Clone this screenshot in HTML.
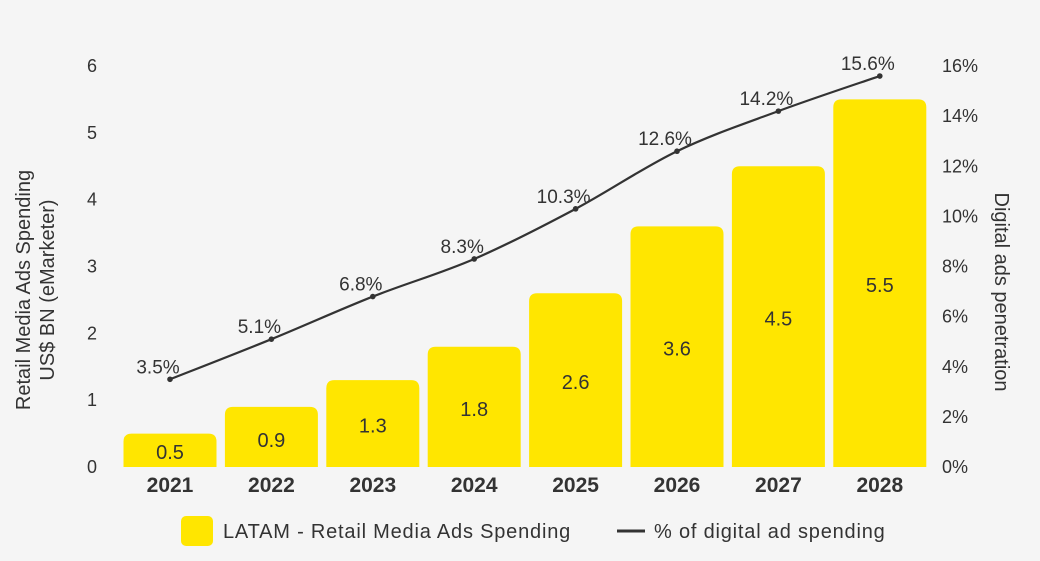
<!DOCTYPE html>
<html><head><meta charset="utf-8"><style>
body{margin:0;background:#f5f5f5;overflow:hidden;}
svg{display:block;font-family:"Liberation Sans",sans-serif;}
</style></head><body>
<svg id="chart" width="1040" height="561">
<rect width="1040" height="561" fill="#f5f5f5"/>
<g id="g"></g>
<text transform="translate(30,290) rotate(-90)" text-anchor="middle" font-size="20" fill="#333"><tspan x="0" dy="0">Retail Media Ads Spending</tspan><tspan x="0" dy="24">US$ BN (eMarketer)</tspan></text>
<text transform="translate(995,292) rotate(90)" text-anchor="middle" font-size="20" fill="#333">Digital ads penetration</text>
<rect x="181" y="516" width="32" height="30" rx="5" fill="#FFE600"/>
<text x="223" y="538" font-size="20" letter-spacing="0.8" fill="#333">LATAM - Retail Media Ads Spending</text>
<line x1="617" y1="531" x2="645" y2="531" stroke="#333" stroke-width="3"/>
<text x="654" y="538" font-size="20" letter-spacing="0.8" fill="#333">% of digital ad spending</text>
</svg>
<script>
const years=["2021","2022","2023","2024","2025","2026","2027","2028"];
const spend=[0.5,0.9,1.3,1.8,2.6,3.6,4.5,5.5];
const spendLabels=["0.5","0.9","1.3","1.8","2.6","3.6","4.5","5.5"];
const pct=[3.5,5.1,6.8,8.3,10.3,12.6,14.2,15.6];
const leftTicks=[0,1,2,3,4,5,6];
const rightTicks=[0,2,4,6,8,10,12,14,16];
const ns="http://www.w3.org/2000/svg";
const g=document.getElementById('g');
const y0=467,yTop=66;
const yL=v=>y0-(y0-yTop)*v/6;
const yR=v=>y0-(y0-yTop)*v/16;
const xC=i=>170+101.4*i;
const bw=93;
function el(t,a,txt){const e=document.createElementNS(ns,t);for(const k in a)e.setAttribute(k,a[k]);if(txt!=null)e.textContent=txt;g.appendChild(e);return e;}
leftTicks.forEach(t=>{const e=el('text',{x:92,y:yL(t)+6,'text-anchor':'middle','font-size':18,fill:'#333'},String(t));

});
rightTicks.forEach(t=>{const e=el('text',{x:942,y:yR(t)+6,'font-size':18,fill:'#333'},t+'%');

});
spend.forEach((v,i)=>{const x=xC(i)-bw/2,y=yL(v),h=y0-y,r=8;
const p=el('path',{d:`M${x},${y0}V${y+r}Q${x},${y} ${x+r},${y}H${x+bw-r}Q${x+bw},${y} ${x+bw},${y+r}V${y0}Z`,fill:'#FFE600'});


const ly=i<2?y+h*0.55+7:y+h/2+9;
const t=el('text',{x:xC(i),y:ly,'text-anchor':'middle','font-size':20,fill:'#333'},spendLabels[i]);


const yl=el('text',{x:xC(i),y:492,'text-anchor':'middle','font-size':21,'font-weight':'bold',fill:'#333'},years[i]);

});
const pts=pct.map((v,i)=>[xC(i),yR(v)]);
let d=`M${pts[0][0]},${pts[0][1]}`;
for(let i=0;i<pts.length-1;i++){const p0=pts[Math.max(0,i-1)],p1=pts[i],p2=pts[i+1],p3=pts[Math.min(pts.length-1,i+2)];
const c1=[p1[0]+(p2[0]-p0[0])/6,p1[1]+(p2[1]-p0[1])/6],c2=[p2[0]-(p3[0]-p1[0])/6,p2[1]-(p3[1]-p1[1])/6];
d+=`C${c1[0]},${c1[1]} ${c2[0]},${c2[1]} ${p2[0]},${p2[1]}`;}
const ln=el('path',{d,fill:'none',stroke:'#333','stroke-width':2.2});


pts.forEach((p,i)=>{const c=el('circle',{cx:p[0],cy:p[1],r:2.8,fill:'#333'});


const t=el('text',{x:p[0]-12,y:p[1]-6,'text-anchor':'middle','font-size':19,fill:'#333'},pct[i]+'%');

});
</script>
</body></html>
